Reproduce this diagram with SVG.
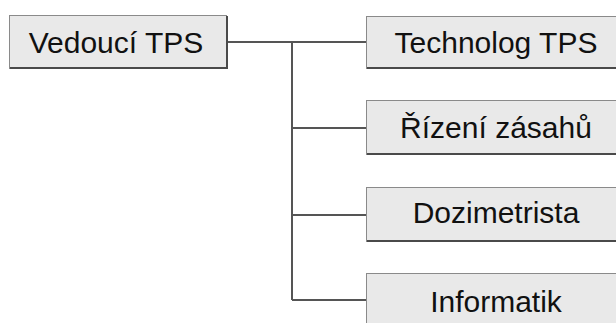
<svg xmlns="http://www.w3.org/2000/svg" width="616" height="323" viewBox="0 0 616 323">
<style>
.box{fill:#e9e9e9;stroke:#8a8a8a;stroke-width:1}
.sh{fill:none;stroke:#4a4a4a;stroke-width:2}
.t{font-family:"Liberation Sans",Arial,sans-serif;font-size:30px;fill:#111;text-anchor:middle}
.c{fill:none;stroke:#555;stroke-width:2}
</style>
<rect width="616" height="323" fill="#fff"/>
<g id="connectors">
<path class="c" d="M227 42H367M292 42V300M292 128H367M292 215H367M292 300H367"/>
</g>
<g id="vedouci">
<rect class="box" x="9.5" y="15.5" width="217" height="53"/>
<path class="sh" d="M10 68H227V16"/>
<text class="t" x="116" y="53">Vedoucí TPS</text>
</g>
<g id="technolog">
<rect class="box" x="366.5" y="16.5" width="260" height="52"/>
<path class="sh" d="M367 68H627"/>
<text class="t" x="496" y="53">Technolog TPS</text>
</g>
<g id="rizeni">
<rect class="box" x="366.5" y="100.5" width="260" height="54"/>
<path class="sh" d="M367 154H627"/>
<text class="t" x="496" y="138">Řízení zásahů</text>
</g>
<g id="dozimetrista">
<rect class="box" x="366.5" y="187.5" width="260" height="54"/>
<path class="sh" d="M367 241H627"/>
<text class="t" x="496" y="223">Dozimetrista</text>
</g>
<g id="informatik">
<rect class="box" x="366.5" y="273.5" width="260" height="60"/>
<text class="t" x="496" y="312">Informatik</text>
</g>
</svg>
